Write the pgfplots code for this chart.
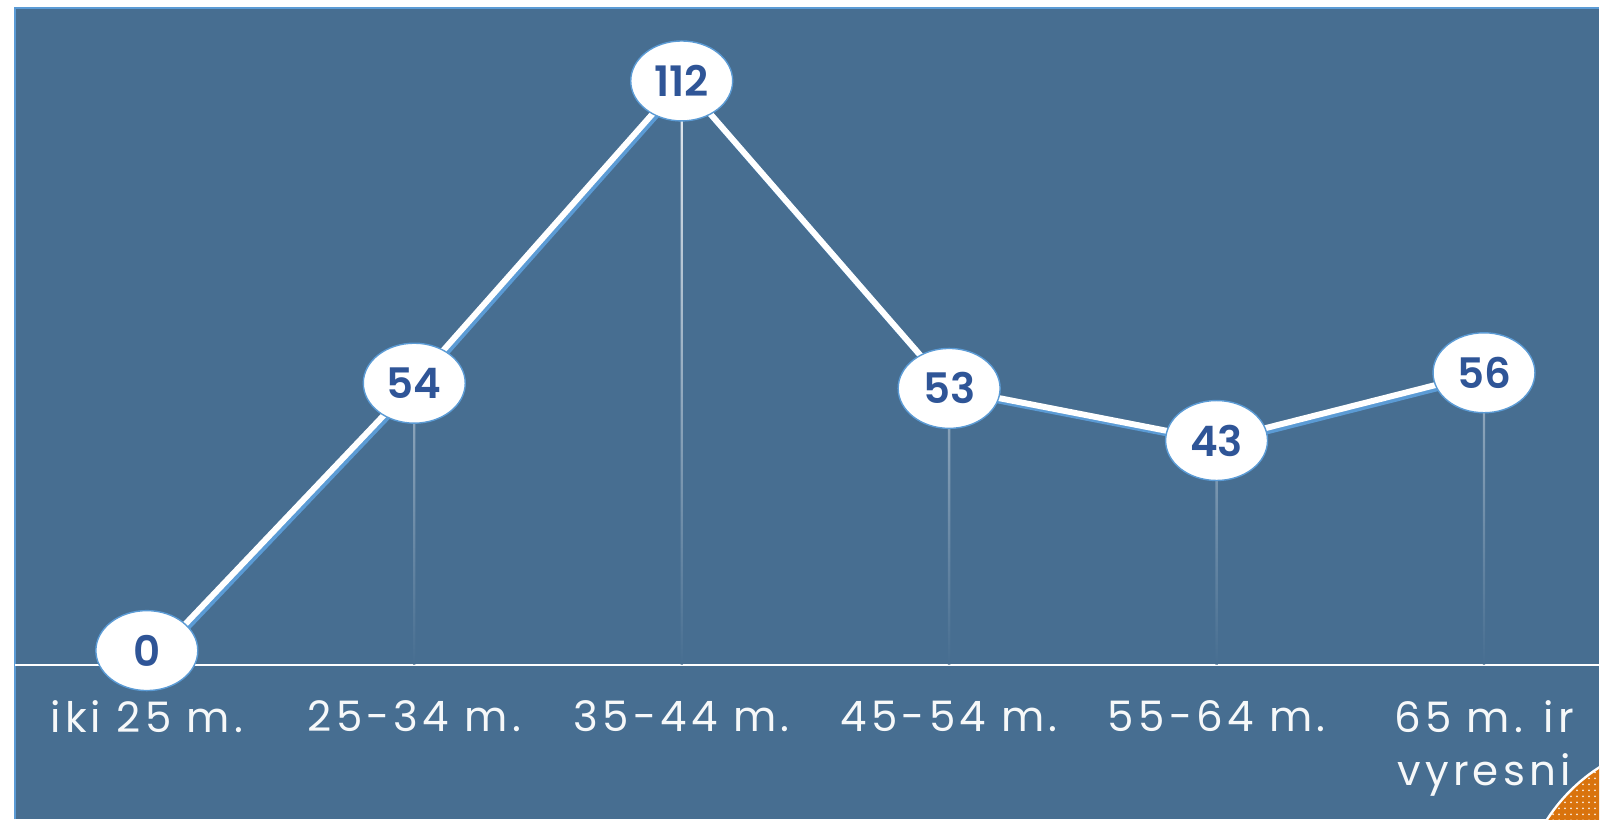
\documentclass[border=0pt]{standalone}
\usepackage{fontspec}
\setmainfont{Poppins}
\newfontfamily\labelfont[LetterSpace=10]{Poppins}
\newfontfamily\numfont{Poppins SemiBold}
\usepackage{pgfplots}
\pgfplotsset{compat=1.18}
\usetikzlibrary{shapes.geometric,patterns}

\definecolor{panel}{HTML}{476E91}
\definecolor{edge}{HTML}{5B9BD5}
\definecolor{numblue}{HTML}{2F5597}
\definecolor{accent}{HTML}{D9730D}

\begin{document}
\begin{tikzpicture}
  % page and panel (1pt = 2 image pixels)
  \fill[white] (0pt,0pt) rectangle (800pt,410pt);
  \fill[panel] (7.5pt,0pt) rectangle (800pt,406pt);
  \draw[edge, line width=0.8pt] (7.5pt,0pt) -- (7.5pt,406pt) -- (800pt,406pt);
  % corner ornament
  \begin{scope}
    \clip (7.5pt,0pt) rectangle (800pt,406pt);
    \fill[accent] (847.5pt,-47.5pt) circle (87.5pt);
    \fill[pattern=dots, pattern color=white!85!accent] (847.5pt,-47.5pt) circle (87.5pt);
    \draw[white, line width=1.2pt] (847.5pt,-47.5pt) circle (87.5pt);
  \end{scope}

  \begin{axis}[
    at={(7.5pt,77.5pt)}, anchor=south west,
    scale only axis, width=792.5pt, height=328.5pt,
    xmin=-0.493, xmax=5.43, ymin=0, ymax=126,
    clip=false,
    axis x line*=bottom, hide y axis,
    x axis line style={white, line width=1pt, -},
    xtick={0,1,2,3,4,5}, major tick length=0pt,
    xticklabels={iki 25 m., 25-34 m., 35-44 m., 45-54 m., 55-64 m., {65 m. ir\\vyresni}},
    xticklabel style={text=white!95!panel, font=\labelfont\fontsize{21}{26.5}\selectfont,
      align=center, anchor=north, yshift=-14.5pt},
    /pgf/number format/assume math mode=true,
  ]
    % drop lines from each point to the baseline
    \addplot[ybar, bar width=1.2pt, draw=none, top color=white!88!panel, bottom color=panel]
      coordinates {(0,0) (1,54) (2,112) (3,53) (4,43) (5,56)};
    % soft blue edge under the line
    \addplot[edge, line width=3pt, xshift=1.2pt, yshift=-1.5pt]
      coordinates {(0,0) (1,54) (2,112) (3,53) (4,43) (5,56)};
    % main line with value labels
    \addplot[white, line width=3pt,
      nodes near coords,
      every node near coord/.style={ellipse, fill=white, draw=edge, line width=0.7pt,
        minimum width=51pt, minimum height=40pt, inner sep=0pt, anchor=center,
        text=numblue, font=\numfont\fontsize{21}{21}\selectfont},
      coordinate style/.condition={\coordindex==0}{yshift=7pt},
    ] coordinates {(0,0) (1,54) (2,112) (3,53) (4,43) (5,56)};
  \end{axis}
\end{tikzpicture}
\end{document}
